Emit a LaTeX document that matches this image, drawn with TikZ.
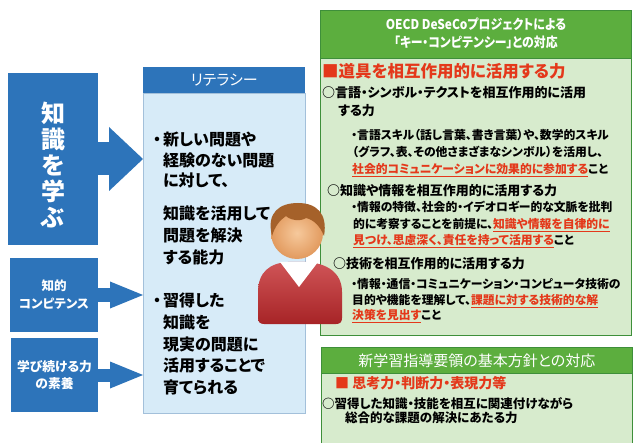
\documentclass[tikz,border=0pt]{standalone}
\usepackage{fontspec}
\setmainfont{Noto Sans CJK JP}[RawFeature=+palt]
\newfontfamily\narrowjp{Noto Sans CJK JP}[RawFeature=+palt, FakeStretch=0.88]
\usetikzlibrary{arrows.meta}

\definecolor{boxblue}{HTML}{2D74BA}
\definecolor{litbg}{HTML}{D7EBF8}
\definecolor{litline}{HTML}{A3C0DA}
\definecolor{hdgreen}{HTML}{5CAE3E}
\definecolor{bodygreen}{HTML}{D7EBCD}
\definecolor{edgegreen}{HTML}{3E8F3A}
\definecolor{keyred}{HTML}{E4381A}
\definecolor{skin}{HTML}{F6C99C}
\definecolor{skindark}{HTML}{E29A5E}
\definecolor{hairbrown}{HTML}{A5612A}
\definecolor{shirtred}{HTML}{C42A2D}

\newcommand\jpsize[2]{\fontsize{#1bp}{#2bp}\selectfont}
\newcommand\keypt[1]{\textcolor{keyred}{\underline{#1}}}

\begin{document}
\begin{tikzpicture}[x=1bp,y=-1bp,
    bluebox/.style={fill=boxblue, text=white, inner sep=0pt, align=center},
    bigarrow/.style={boxblue, line width=33bp, -{Triangle[length=34bp,width=64bp,line width=0pt]}},
    smallarrow/.style={boxblue, line width=13bp, -{Triangle[length=33bp,width=27bp,line width=0pt]}},
    littext/.style={anchor=base west, inner sep=0pt, font=\bfseries\jpsize{16}{19}},
    redhead/.style={anchor=base west, inner sep=0pt, text=keyred, font=\bfseries\jpsize{16.5}{20}},
    itemtext/.style={anchor=base west, inner sep=0pt, font=\bfseries\jpsize{13}{16}},
    subtext/.style={anchor=base west, inner sep=0pt, font=\bfseries\jpsize{11.8}{14}},
    hdtext/.style={anchor=base, inner sep=0pt, text=white}]
\useasboundingbox[fill=white] (0,0) rectangle (633,443);

% left column
\node[bluebox, minimum width=90bp, minimum height=172bp] (know) at (53,159) {};
\node[text=white, align=center, inner sep=0pt, font=\bfseries\jpsize{24}{26}] (knowtxt) at (53,165) {知\\識\\を\\学\\ぶ};
\node[bluebox, minimum width=88bp, minimum height=74bp, font=\bfseries\jpsize{12.5}{18}] (comp) at (54,295) {知的\\コンピテンス};
\node[bluebox, minimum width=87bp, minimum height=74bp, font=\bfseries\jpsize{12.8}{17}] (cont) at (54.5,375) {学び続ける力\\の素養};

% literacy
\node[fill=litbg, draw=litline, line width=1bp, minimum width=162bp, minimum height=320bp, anchor=north west] (litbody) at (143,93) {};
\node[fill=boxblue, text=white, minimum width=162bp, minimum height=26bp, anchor=north west, font=\jpsize{15}{18}] (lithead) at (143,67) {リテラシー};

\draw[bigarrow] (know.east) -- (know.east -| litbody.west);
\draw[smallarrow] (comp.east) -- (comp.east -| litbody.west);
\draw[smallarrow] (cont.east) -- (cont.east -| litbody.west);

\node[littext] (lit1) at (163,146) {\llap{・\hspace{2bp}}新しい問題や};
\node[littext] (lit2) at (163,167) {経験のない問題};
\node[littext] (lit3) at (163,187) {に対して、};
\node[littext] (lit4) at (163,220) {知識を活用して};
\node[littext] (lit5) at (163,242) {問題を解決};
\node[littext] (lit6) at (163,264) {する能力};
\node[littext] (lit7) at (163,307) {\llap{・\hspace{2bp}}習得した};
\node[littext] (lit8) at (163,328) {知識を};
\node[littext] (lit9) at (163,350) {現実の問題に};
\node[littext] (lit10) at (163,371) {活用することで};
\node[littext] (lit11) at (163,393) {育てられる};

% OECD DeSeCo panel
\node[fill=bodygreen, draw=edgegreen, line width=1.2bp, minimum width=311bp, minimum height=277bp, anchor=north west] (oecd) at (320,58) {};
\node[fill=hdgreen, draw=edgegreen, line width=0.8bp, minimum width=311bp, minimum height=48bp, anchor=north west] (oecdhead) at (320,10) {};
\node[hdtext, font=\narrowjp\bfseries\jpsize{13.5}{16}] (oecdh1) at (oecdhead.center |- 0,30) {OECD DeSeCoプロジェクトによる};
\node[hdtext, font=\narrowjp\bfseries\jpsize{13.5}{16}] (oecdh2) at (oecdhead.center |- 0,48) {「キー・コンピテンシー」との対応};

\node[redhead] (tool) at (322,78) {■道具を相互作用的に活用する力};
\node[itemtext] (langa) at (322,98) {○言語・シンボル・テクストを相互作用的に活用};
\node[itemtext] (langb) at (338,116) {する力};
\node[subtext] (langc) at (357,139.5) {\llap{・}言語スキル（話し言葉、書き言葉）や、数学的スキル};
\node[subtext] (langd) at (352,156.5) {（グラフ、表、その他さまざまなシンボル）を活用し、};
\node[subtext] (lange) at (352,173.5) {\keypt{社会的コミュニケーションに効果的に参加する}こと};
\node[itemtext] (infoa) at (327,196) {○知識や情報を相互作用的に活用する力};
\node[subtext] (infob) at (357,211.5) {\llap{・}情報の特徴、社会的・イデオロギー的な文脈を批判};
\node[subtext] (infoc) at (353,228.5) {的に考察することを前提に、\keypt{知識や情報を自律的に}};
\node[subtext] (infod) at (353,244.5) {\keypt{見つけ、思慮深く、責任を持って活用する}こと};
\node[itemtext] (techa) at (333,269) {○技術を相互作用的に活用する力};
\node[subtext] (techb) at (357,288.5) {\llap{・}情報・通信・コミュニケーション・コンピュータ技術の};
\node[subtext] (techc) at (352,304.5) {目的や機能を理解して、\keypt{課題に対する技術的な解}};
\node[subtext] (techd) at (352,319.5) {\keypt{決策を見出す}こと};

% course of study panel
\node[fill=bodygreen, draw=edgegreen, line width=1.2bp, minimum width=311bp, minimum height=80bp, anchor=north west] (plan) at (321,373) {};
\node[fill=hdgreen, draw=edgegreen, line width=0.8bp, minimum width=311bp, minimum height=26bp, anchor=north west] (planhead) at (321,347) {};
\node[hdtext, font=\jpsize{15}{18}] (planh) at (planhead.center |- 0,366.5) {新学習指導要領の基本方針との対応};
\node[redhead, font=\bfseries\jpsize{14}{17}] (think) at (335,388.3) {■ 思考力・判断力・表現力等};
\node[itemtext, font=\bfseries\jpsize{12.5}{15}] (planb) at (322,408) {○習得した知識・技能を相互に関連付けながら};
\node[itemtext, font=\bfseries\jpsize{12.5}{15}] (planc) at (345,422.7) {総合的な課題の解決にあたる力};

% person
\shade[top color=shirtred!80!white, bottom color=shirtred!85!black]
  (258,318) -- (258,292) .. controls (258,272) and (270,263) .. (288,262) -- (306,262)
  .. controls (326,263) and (342,272) .. (342,292) -- (342,318)
  .. controls (342,322) and (340,324) .. (336,324) -- (264,324)
  .. controls (260,324) and (258,322) .. (258,318) -- cycle;
\fill[white] (280,262) -- (318,262) -- (299,287) -- cycle;
\shade[inner color=skin, outer color=skindark] (297,233) circle (26bp);
\fill[hairbrown] (272,236) .. controls (266,212) and (280,203) .. (298,203)
  .. controls (316,203) and (328,213) .. (324,236)
  .. controls (320,226) and (314,220) .. (306,218)
  .. controls (300,222) and (290,220) .. (286,216)
  .. controls (280,220) and (275,226) .. (272,236) -- cycle;
\end{tikzpicture}
\end{document}
